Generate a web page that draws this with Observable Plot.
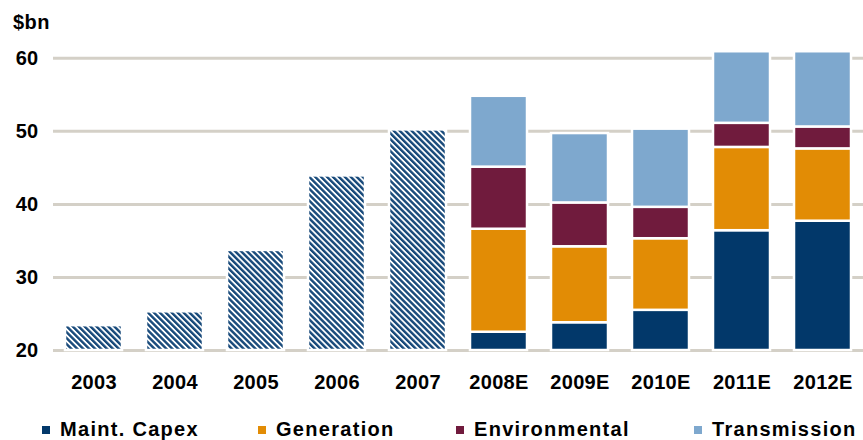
<!DOCTYPE html>
<html>
<head>
<meta charset="utf-8">
<script src="https://cdn.jsdelivr.net/npm/d3@7"></script>
<script src="https://cdn.jsdelivr.net/npm/@observablehq/plot@0.6"></script>
<style>
  html, body { margin: 0; padding: 0; background: #fff; }
  body { width: 863px; height: 440px; position: relative; overflow: hidden;
         font-family: "Liberation Sans", Arial, sans-serif; }
  #chart { position: absolute; left: 0; top: 0; }
  #unit { position: absolute; left: 13px; top: 11px; font-size: 20px; font-weight: bold; color: #000; letter-spacing: 0.5px; z-index: 2; }
  .lg { position: absolute; top: 418px; font-size: 20px; font-weight: bold; color: #000; letter-spacing: 1.3px; white-space: nowrap; line-height: 23px; z-index: 2; }
  .lg i { position: absolute; left: -18px; top: 8px; width: 8px; height: 8px; }
</style>
</head>
<body>
<div id="chart"></div>
<div id="unit">$bn</div>
<div id="legend"></div>
<script>
const years = ["2003","2004","2005","2006","2007","2008E","2009E","2010E","2011E","2012E"];
const histYears = ["2003","2004","2005","2006","2007"];
const histValues = [23.4, 25.3, 33.7, 43.9, 50.2];
const fcYears = ["2008E","2009E","2010E","2011E","2012E"];
const series = ["Maint. Capex","Generation","Environmental","Transmission"];
const colors = ["#02386a","#e28c05","#701b3d","#7ea8ce"];
const maint = [22.5, 23.8, 25.5, 36.4, 37.7];
const generation = [14.1, 10.4, 9.8, 11.4, 9.9];
const environmental = [8.5, 6.0, 4.3, 3.3, 3.0];
const transmission = [9.7, 9.5, 10.7, 9.8, 10.3];
const yTicks = [20, 30, 40, 50, 60];

const hist = histYears.map((y, i) => ({year: y, value: histValues[i]}));
const stacked = [];
const seriesValues = [maint, generation, environmental, transmission];
fcYears.forEach((y, i) => {
  series.forEach((s, j) => stacked.push({year: y, series: s, value: seriesValues[j][i]}));
});

const chart = Plot.plot({
  width: 863,
  height: 405,
  marginLeft: 53,
  marginRight: 0,
  marginTop: 50.5,
  marginBottom: 55,
  style: {fontFamily: "'Liberation Sans', Arial, sans-serif", fontSize: "20px", fontWeight: "bold", color: "#000", letterSpacing: "0.3px", background: "white"},
  x: {domain: years, paddingInner: 0.3, paddingOuter: 0.15, tickSize: 0, tickPadding: 24, label: null},
  y: {domain: [20, 61], clamp: true, ticks: yTicks, tickSize: 0, tickPadding: 15, label: null},
  color: {domain: series, range: colors},
  marks: [
    Plot.ruleY(yTicks, {stroke: "#d4d0c7", strokeWidth: 3}),
    Plot.barY(hist, {x: "year", y: "value", fill: "url(#hatch)", stroke: "white", strokeWidth: 2.5}),
    Plot.barY(stacked, {x: "year", y: "value", fill: "series", order: series, stroke: "white", strokeWidth: 2.5})
  ]
});

const ns = "http://www.w3.org/2000/svg";
const defs = document.createElementNS(ns, "defs");
defs.innerHTML = '<pattern id="hatch" patternUnits="userSpaceOnUse" width="4.2" height="4.2" patternTransform="rotate(-45)">' +
  '<rect width="4.2" height="4.2" fill="white"/><rect width="2.4" height="4.2" fill="#17497a"/></pattern>';
chart.insertBefore(defs, chart.firstChild);
document.getElementById("chart").appendChild(chart);

const legendX = [60, 276, 474, 712];
const legend = document.getElementById("legend");
series.forEach((s, i) => {
  const d = document.createElement("div");
  d.className = "lg";
  d.style.left = legendX[i] + "px";
  d.innerHTML = '<i style="background:' + colors[i] + '"></i>' + s;
  legend.appendChild(d);
});
</script>
</body>
</html>
